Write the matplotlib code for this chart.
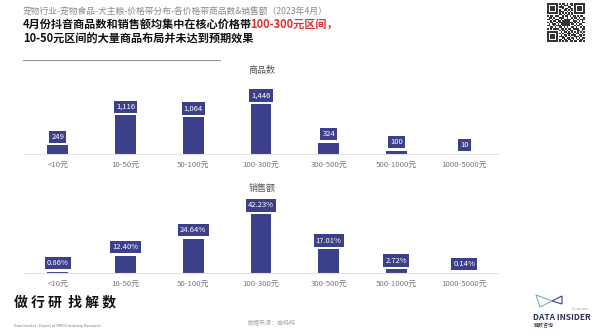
import numpy as np
import matplotlib.pyplot as plt
from matplotlib.patches import Rectangle, Polygon
from matplotlib.lines import Line2D

plt.rcParams['font.family'] = ['Noto Sans CJK SC', 'DejaVu Sans']

price_bands = ['<10元', '10-50元', '50-100元', '100-300元', '300-500元', '500-1000元', '1000-5000元']
item_counts = [249, 1116, 1064, 1446, 324, 100, 10]
sales_share = [0.86, 12.40, 24.64, 42.23, 17.01, 2.72, 0.14]

subtitle = '宠物行业-宠物食品-犬主粮-价格带分布-各价格带商品数&销售额（2023年4月）'
headline_a = '4月份抖音商品数和销售额均集中在核心价格带'
headline_b = '100-300元区间，'
headline_c = '10-50元区间的大量商品布局并未达到预期效果'

BAR = '#3c3f8a'
W, H = 600, 336


def fx(x):
    return x / W


def fy(y):
    return 1 - y / H


fig = plt.figure(figsize=(6.0, 3.36), dpi=100)
fig.patch.set_facecolor('white')


def bar_panel(base_px, values, top_val, title, title_px, fmt):
    # axes spans 64 px above the baseline, scaled so the tallest bar is ~50-59 px
    ax = fig.add_axes([fx(24), fy(base_px), fx(498) - fx(24), 64 / H])
    x = np.arange(len(values))
    ax.bar(x, values, width=0.31, color=BAR, zorder=2)
    ax.set_xlim(-0.5, len(values) - 0.5)
    ax.set_ylim(0, top_val)
    for xi, v in zip(x, values):
        ax.annotate(fmt(v), (xi, v), xytext=(0, 6.2), textcoords='offset points',
                    ha='center', va='center', color='white', fontsize=5.5,
                    bbox=dict(boxstyle='square,pad=0.28', fc=BAR, ec='none'))
    for s in ['top', 'right', 'left']:
        ax.spines[s].set_visible(False)
    ax.spines['bottom'].set_color('#e2e2e2')
    ax.spines['bottom'].set_linewidth(0.8)
    ax.set_yticks([])
    ax.set_xticks(x)
    ax.set_xticklabels(price_bands, fontsize=5.6, color='#777777')
    ax.tick_params(axis='x', length=0, pad=5)
    ax.patch.set_alpha(0)
    fig.text(fx(262), fy(title_px), title, ha='center', va='center',
             fontsize=6.5, color='#555555')
    return ax


bar_panel(154, item_counts, 1446 * 64 / 50, '商品数', 71, lambda v: f'{v:,}')
bar_panel(273, sales_share, 42.23 * 64 / 59, '销售额', 188, lambda v: f'{v:.2f}%')

# header
fig.text(fx(23), fy(11), subtitle, ha='left', va='center', fontsize=6.3, color='#8a8a8a')
t1 = fig.text(fx(23), fy(24.5), headline_a, ha='left', va='center', fontsize=8.0,
              fontweight='bold', color='#111111')
fig.canvas.draw()
bb = t1.get_window_extent()
# red part continues right after the black part
fig.text((bb.x1 - 2) / fig.bbox.width, fy(24.5), headline_b, ha='left', va='center',
         fontsize=8.0, fontweight='bold', color='#e0302d')
fig.text(fx(23), fy(39.5), headline_c, ha='left', va='center', fontsize=8.0,
         fontweight='bold', color='#111111')
fig.add_artist(Line2D([fx(23), fx(220)], [fy(60), fy(60)], color='#9a9a9a', lw=0.8))

# qr code block in the corner
qr = fig.add_axes([fx(547), fy(42), fx(38), 39 / H])
qr.set_xlim(0, 25)
qr.set_ylim(0, 25)
qr.axis('off')
qr_rows = ['1111111010110101101111111', '1000001001011100101000001', '1011101011100011001011101',
           '1011101000101101101011101', '1011101010011010101011101', '1000001011100101001000001',
           '1111111010101010101111111', '0000000011010110100000000', '1011011100101101011010110',
           '0110100011100100101101001', '1101011101011111010010111', '0010110110111110011101010',
           '1011001011111111101010011', '0101110101111110110101100', '1100101110111110001011010',
           '0011010011010100110100101', '1010111101101011011110011', '0000000010110101100011010',
           '1111111001011010101010101', '1000001010100111010110010', '1011101001011010111001101',
           '1011101011101001001110100', '1011101000110110110101011', '1000001011011011010010110',
           '1111111010101101101101101']
for r, row in enumerate(qr_rows):
    for c, ch in enumerate(row):
        if ch == '1':
            qr.add_patch(Rectangle((c, 24 - r), 1, 1, color='#333333', lw=0))

# footer
fig.text(fx(14), fy(302), '做 行 研  找 解 数', ha='left', va='center', fontsize=10.0,
         fontweight='bold', color='#111111')
fig.text(fx(14), fy(326), 'Data Insider - Expert of FMCG Industry Research', ha='left',
         va='center', fontsize=2.8, color='#777777')
fig.text(fx(272), fy(323), '数据来源：蝉妈妈', ha='center', va='center', fontsize=4.3,
         color='#aaaaaa')

# data insider mark
fig.add_artist(Polygon([[fx(536), fy(295)], [fx(540), fy(307)], [fx(552), fy(301)]],
                       closed=True, fill=False, ec='#6fb6b8', lw=0.8))
fig.add_artist(Polygon([[fx(552), fy(301)], [fx(562), fy(296)], [fx(562), fy(304)]],
                       closed=True, fill=False, ec='#3c3f8a', lw=0.8))
fig.text(fx(580), fy(309), 'Consumer', ha='center', va='center', fontsize=2.6,
         color='#999999', style='italic')
fig.text(fx(562), fy(317), 'DATA INSIDER', ha='center', va='center', fontsize=6.0,
         color='#2d2f5e', fontweight='bold')
fig.text(fx(534), fy(326), '解数咨询', ha='left', va='center', fontsize=3.6,
         color='#2d2f5e')

fig.savefig('out.png', dpi=100)
